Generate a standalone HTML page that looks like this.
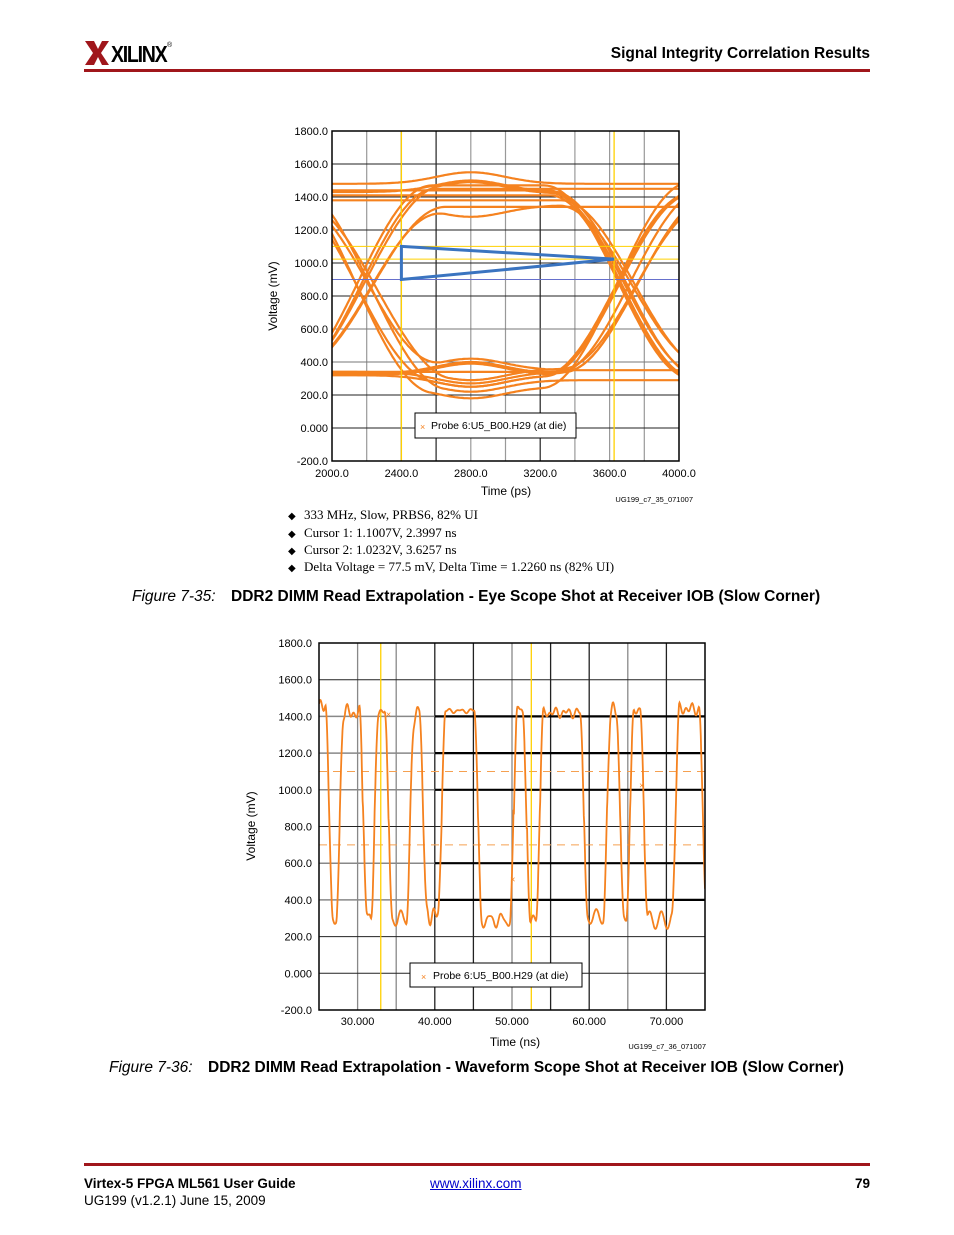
<!DOCTYPE html>
<html><head><meta charset="utf-8">
<style>
html,body{margin:0;padding:0;background:#fff;}
body{width:954px;height:1235px;position:relative;overflow:hidden;font-family:"Liberation Sans",sans-serif;color:#000;}
.abs{position:absolute;white-space:nowrap;}
.rule{position:absolute;left:84px;width:786px;height:3px;background:#a0161b;}
.bul{position:absolute;left:288px;font-family:"Liberation Serif",serif;font-size:13px;}
.bul span{display:inline-block;width:16px;font-size:10px;}
.cap{position:absolute;font-size:15.5px;}
.cap i{font-weight:normal;}
svg text{font-family:"Liberation Sans",sans-serif;}
</style></head>
<body>
<div class="abs" style="left:85px;top:40px;height:26px;">
  <svg width="90" height="26" viewBox="0 0 90 26" style="position:absolute;left:0;top:0">
    <path d="M0 1 L9 1 L13 9 L17 1 L24 1 L16 13 L24 25 L17 25 L13 17 L9 25 L0 25 L8 13 Z" fill="#a0161b"/>
  </svg>
  <span class="abs" style="left:26px;top:1px;font-weight:bold;font-size:23px;letter-spacing:-1.5px;transform:scaleX(0.85);transform-origin:left;">XILINX</span>
  <span class="abs" style="left:82px;top:2px;font-size:7px;">®</span>
</div>
<div class="abs" style="right:84px;top:45px;font-weight:bold;font-size:15.5px;">Signal Integrity Correlation Results</div>
<div class="rule" style="top:69px;"></div>

<svg id="eye" width="954" height="520" style="position:absolute;left:0;top:0"></svg>
<svg id="wave" width="954" height="1060" style="position:absolute;left:0;top:0"></svg>

<div class="bul" style="top:507px;"><span>◆</span>333 MHz, Slow, PRBS6, 82% UI</div>
<div class="bul" style="top:525px;"><span>◆</span>Cursor 1: 1.1007V, 2.3997 ns</div>
<div class="bul" style="top:542px;"><span>◆</span>Cursor 2: 1.0232V, 3.6257 ns</div>
<div class="bul" style="top:559px;"><span>◆</span>Delta Voltage = 77.5 mV, Delta Time = 1.2260 ns (82% UI)</div>

<div class="cap abs" style="left:132px;top:588px;"><i>Figure 7-35:</i><b style="position:absolute;left:99px;">DDR2 DIMM Read Extrapolation - Eye Scope Shot at Receiver IOB (Slow Corner)</b></div>
<div class="cap abs" style="left:109px;top:1059px;"><i>Figure 7-36:</i><b style="position:absolute;left:99px;">DDR2 DIMM Read Extrapolation - Waveform Scope Shot at Receiver IOB (Slow Corner)</b></div>

<div class="rule" style="top:1163px;"></div>
<div class="abs" style="left:84px;top:1176px;font-weight:bold;font-size:13.5px;">Virtex-5 FPGA ML561 User Guide</div>
<div class="abs" style="left:84px;top:1193px;font-size:13.5px;">UG199 (v1.2.1) June 15, 2009</div>
<div class="abs" style="left:430px;top:1176px;font-size:13.5px;color:#0000cc;text-decoration:underline;">www.xilinx.com</div>
<div class="abs" style="right:84px;top:1176px;font-weight:bold;font-size:13.5px;">79</div>

<script>
const NS="http://www.w3.org/2000/svg";
function mk(p,tag,a){const e=document.createElementNS(NS,tag);for(const k in a)e.setAttribute(k,a[k]);p.appendChild(e);return e;}

/* ---------- Eye diagram data ---------- */
const eyeXTicks=[2000,2400,2800,3200,3600,4000];
const eyeYTicks=[-200,0,200,400,600,800,1000,1200,1400,1600,1800];
const eyeYLabels=["-200.0","0.000","200.0","400.0","600.0","800.0","1000.0","1200.0","1400.0","1600.0","1800.0"];
const eyeCrossings=[2200,3700];
const traceBitsA=[1,1,1,0,0,0,1,1,0,1,0,1,0,0,1,0,1,0,1,0];
const traceBitsB=[0,1,1,1,0,0,0,1,1,0,1,1,0,1,0,0,1,0,0,1];
const traceBitsC=[1,0,1,0,1,1,0,0,0,1,1,0,1,1,0,1,0,1,1,0];
const traceJitter=[-60,-30,0,30,60,-45,15,45,-15,-60,30,0,60,-30,15,-45,-20,20,50,-50];
const traceHigh=[1420,1440,1480,1350,1400,1430,1460,1380,1420,1490,1340,1430,1400,1450,1370,1420,1410,1440,1360,1470];
const traceLow=[320,300,260,380,340,320,290,360,330,250,370,310,340,300,350,320,280,330,360,300];
const cursorTimes=[2400,3626];
const cursorVolts=[1100.7,1023.2];

(function(){
 const svg=document.getElementById('eye');
 const L=332,R=679,T=131,B=461;
 const x=t=>L+(t-2000)/2000*(R-L), y=v=>B-(v+200)/2000*(B-T);
 const defs=mk(svg,'defs',{});const cp=mk(defs,'clipPath',{id:'ec'});mk(cp,'rect',{x:L,y:T,width:R-L,height:B-T});
 for(let t=2200;t<4000;t+=200){const l=mk(svg,'line',{x1:x(t),x2:x(t),y1:T,y2:B,stroke:[2200,2800,3000,3400,3600,3800].includes(t)?'#999':'#222','stroke-width':1.2});}
 eyeYTicks.forEach((v,i)=>{const l=mk(svg,'line',{x1:L,x2:R,y1:y(v),y2:y(v),stroke:(v==400||v==600)?'#777':'#222','stroke-width':1});
  const tx=mk(svg,'text',{x:328,y:y(v)+4,'text-anchor':'end','font-size':11});tx.textContent=eyeYLabels[i];});
 eyeXTicks.forEach(t=>{const tx=mk(svg,'text',{x:x(t),y:477,'text-anchor':'middle','font-size':11});tx.textContent=t.toFixed(1);});
 const g=mk(svg,'g',{'clip-path':'url(#ec)'});
 function lvl(b,k){return b?traceHigh[k]:traceLow[k];}
 for(let k=0;k<traceBitsA.length;k++){
  const bits=[traceBitsA[k],traceBitsB[k],traceBitsC[k]];
  const c1=eyeCrossings[0]+traceJitter[k], c2=eyeCrossings[1]+traceJitter[k];
  const w=850;
  let pts=[];
  for(let t=1950;t<=4050;t+=10){
   const v0=lvl(bits[0],k),v1=lvl(bits[1],k),v2=lvl(bits[2],k);
   const s=(tt,c)=>{const u=(tt-c)/w; if(u<=-0.5)return 0; if(u>=0.5)return 1; return 0.5+0.5*Math.sin(Math.PI*u);};
   let v=v0+(v1-v0)*s(t,c1)+(v2-v1)*s(t,c2);
   const bump=((k%3)-1)*70*Math.exp(-Math.pow((t-2800)/280,2));
   v+=bump;
   pts.push(x(t).toFixed(1)+','+y(v).toFixed(1));
  }
  const p=mk(g,'polyline',{points:pts.join(' '),fill:'none',stroke:'#f5821f','stroke-width':2.2});
  
 }
 const bl=mk(svg,'line',{x1:L,x2:R,y1:y(900),y2:y(900),stroke:'#6670cc','stroke-width':1});
 cursorTimes.forEach(t=>{const l=mk(svg,'line',{x1:x(t),x2:x(t),y1:T,y2:B,stroke:'#ffd000','stroke-width':1.3});});
 cursorVolts.forEach(v=>{const l=mk(svg,'line',{x1:L,x2:R,y1:y(v),y2:y(v),stroke:'#ffd000','stroke-width':1});});
 const tri=mk(svg,'polygon',{points:`${x(cursorTimes[0])},${y(cursorVolts[0])} ${x(cursorTimes[1])},${y(cursorVolts[1])} ${x(cursorTimes[0])},${y(900)}`,fill:'none',stroke:'#3a74c0','stroke-width':3});
 
 const fr=mk(svg,'rect',{x:L,y:T,width:R-L,height:B-T,fill:'none',stroke:'#000','stroke-width':1.5});
 const lg=mk(svg,'g',{});
 mk(lg,'rect',{x:415,y:413,width:161,height:25,fill:'#fff',stroke:'#000'});
 const lx=mk(lg,'text',{x:420,y:430,'font-size':9,fill:'#f5821f'});lx.textContent='×';
 const lt=mk(lg,'text',{x:431,y:429,'font-size':10.5});lt.textContent='Probe 6:U5_B00.H29 (at die)';
 const yt=mk(svg,'text',{x:0,y:0,'font-size':12,'text-anchor':'middle',transform:'translate(277,296) rotate(-90)'});yt.textContent='Voltage (mV)';
 const xt=mk(svg,'text',{x:506,y:495,'font-size':12,'text-anchor':'middle'});xt.textContent='Time (ps)';
 const id=mk(svg,'text',{x:693,y:502,'font-size':7.5,'text-anchor':'end'});id.textContent='UG199_c7_35_071007';
})();

/* ---------- Waveform data ---------- */
const waveXTicks=[30,40,50,60,70];
const waveXLabels=["30.000","40.000","50.000","60.000","70.000"];
const waveYTicks=[-200,0,200,400,600,800,1000,1200,1400,1600,1800];
const waveYLabels=["-200.0","0.000","200.0","400.0","600.0","800.0","1000.0","1200.0","1400.0","1600.0","1800.0"];
const waveEdges=[26.3,27.7,30.7,32.2,34.0,36.8,38.5,40.9,45.6,50.2,51.9,53.6,59.3,62.3,64.0,65.3,67.1,71.2,74.7];
const waveLevels=[1460,300,1420,320,1420,300,1400,320,1430,290,1410,300,1420,310,1420,320,1430,290,1440,380];
const waveRipple=[0,40,-30,60,-20,50,-60,30,10,-40,70,-10,20,-50,40,-30,0,60,-20,30];
const waveCursorTimes=[33.0,52.5];
const waveThresholds=[1100,700];
const waveMarkersT=[34.0,50.1,66.8];
const waveMarkersV=[1410,510,1023];

(function(){
 const svg=document.getElementById('wave');
 const L=319,R=705,T=643,B=1010;
 const x=t=>L+(t-25)/50*(R-L), y=v=>B-(v+200)/2000*(B-T);
 const defs=mk(svg,'defs',{});const cp=mk(defs,'clipPath',{id:'wc'});mk(cp,'rect',{x:L,y:T,width:R-L,height:B-T});
 for(let t=30;t<75;t+=5){const gray=[30,35,50,65].includes(t);const l=mk(svg,'line',{x1:x(t),x2:x(t),y1:T,y2:B,stroke:gray?'#888':'#222','stroke-width':1.3});}
 waveYTicks.forEach((v,i)=>{
  const thick=[400,600,1000,1200,1400].includes(v);
  if(thick){mk(svg,'line',{x1:L,x2:x(40),y1:y(v),y2:y(v),stroke:'#888','stroke-width':1.5});mk(svg,'line',{x1:x(40),x2:R,y1:y(v),y2:y(v),stroke:'#000','stroke-width':2.2});}
  else {const l=mk(svg,'line',{x1:L,x2:R,y1:y(v),y2:y(v),stroke:'#222','stroke-width':1});}
  const tx=mk(svg,'text',{x:312,y:y(v)+4,'text-anchor':'end','font-size':11});tx.textContent=waveYLabels[i];});
 waveXTicks.forEach((t,i)=>{const tx=mk(svg,'text',{x:x(t),y:1025,'text-anchor':'middle','font-size':11});tx.textContent=waveXLabels[i];});
 waveThresholds.forEach(v=>{const l=mk(svg,'line',{x1:L,x2:R,y1:y(v),y2:y(v),stroke:'#f5a050','stroke-width':1,'stroke-dasharray':'8,6'});});
 waveCursorTimes.forEach(t=>{const l=mk(svg,'line',{x1:x(t),x2:x(t),y1:T,y2:B,stroke:'#ffd000','stroke-width':1.3});});
 const g=mk(svg,'g',{'clip-path':'url(#wc)'});
 const rt=1.0; let pts=[];
 for(let t=25;t<=75.01;t+=0.05){
  let v=waveLevels[0];
  for(let i=0;i<waveEdges.length;i++){const u=(t-waveEdges[i])/rt;const s=u<=-0.5?0:u>=0.5?1:0.5+0.5*Math.sin(Math.PI*u);v+=(waveLevels[i+1]-waveLevels[i])*s;}
  let seg=0;while(seg<waveEdges.length&&t>waveEdges[seg])seg++;
  v+=waveRipple[seg]*Math.sin(t*4.1)*0.8+waveRipple[(seg+3)%waveRipple.length]*Math.sin(t*7.3)*0.5;
  pts.push(x(t).toFixed(1)+','+y(v).toFixed(1));
 }
 const p=mk(g,'polyline',{points:pts.join(' '),fill:'none',stroke:'#f5821f','stroke-width':1.8});
 
 waveMarkersT.forEach((t,i)=>{const m=mk(svg,'text',{x:x(t),y:y(waveMarkersV[i])+3,'text-anchor':'middle','font-size':9,fill:'#f5821f'});m.textContent='×';});
 const fr=mk(svg,'rect',{x:L,y:T,width:R-L,height:B-T,fill:'none',stroke:'#000','stroke-width':1.5});
 const lg=mk(svg,'g',{});
 mk(lg,'rect',{x:410,y:963,width:172,height:24,fill:'#fff',stroke:'#000'});
 const lx=mk(lg,'text',{x:421,y:980,'font-size':9,fill:'#f5821f'});lx.textContent='×';
 const lt=mk(lg,'text',{x:433,y:979,'font-size':10.5});lt.textContent='Probe 6:U5_B00.H29 (at die)';
 const yt=mk(svg,'text',{x:0,y:0,'font-size':12,'text-anchor':'middle',transform:'translate(255,826) rotate(-90)'});yt.textContent='Voltage (mV)';
 const xt=mk(svg,'text',{x:515,y:1046,'font-size':12,'text-anchor':'middle'});xt.textContent='Time (ns)';
 const id=mk(svg,'text',{x:706,y:1049,'font-size':7.5,'text-anchor':'end'});id.textContent='UG199_c7_36_071007';
})();
</script>
</body></html>
